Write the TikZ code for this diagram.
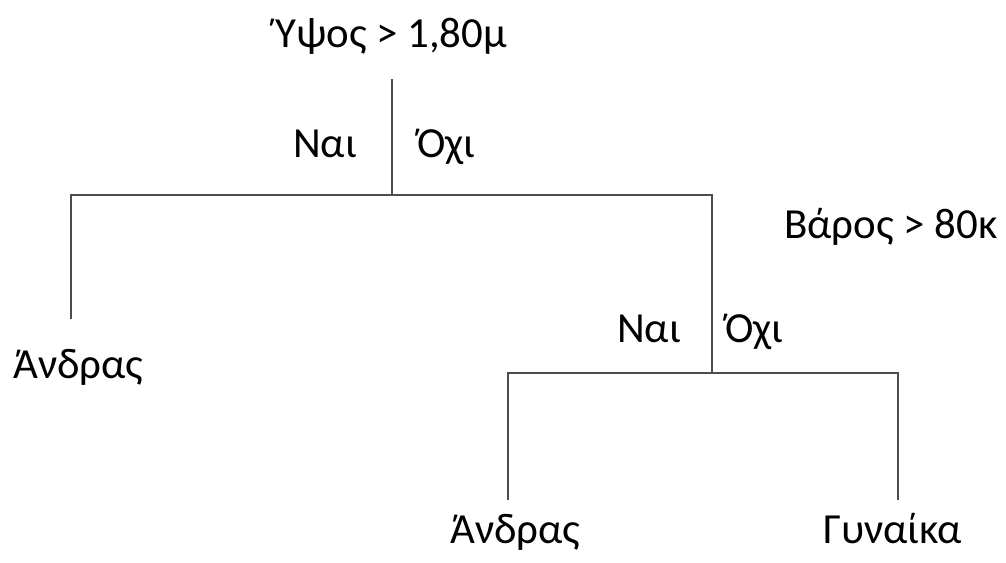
\documentclass[tikz,border=0pt]{standalone}
\usepackage{fontspec}
\setmainfont{Carlito}
\usetikzlibrary{positioning}

\begin{document}
\begin{tikzpicture}[x=0.025cm, y=-0.025cm,
    every node/.style={font=\fontsize{30.5}{36}\selectfont, inner sep=0pt, anchor=base west},
    branch/.style={draw=black!70, line width=0.9pt}]
    \useasboundingbox (0,0) rectangle (1006,563);
    % Questions
    \node (height) at (275,48) {Ύψος > 1,80μ};
    \node (weight) at (784,239) {Βάρος > 80κ};
    % Answers on the branches
    \node (yes1) at (293,158) {Ναι};
    \node (no1) at (417,158) {Όχι};
    \node (yes2) at (617,343) {Ναι};
    \node (no2) at (725,343) {Όχι};
    % Leaves
    \node (man1) at (13,379) {Άνδρας};
    \node (man2) at (450,543) {Άνδρας};
    \node (woman) at (823,543) {Γυναίκα};
    % Joints of the tree
    \coordinate (t1) at (392,79);
    \coordinate (j1) at (392,195);
    \coordinate (l1) at (71,195);
    \coordinate (r1) at (712,195);
    \coordinate (e1) at (71,319);
    \coordinate (j2) at (712,373);
    \coordinate (l2) at (508,373);
    \coordinate (r2) at (898,373);
    \coordinate (e2) at (508,500);
    \coordinate (e3) at (898,500);
    % Branches
    \draw[branch] (t1) -- (j1);
    \draw[branch] (e1) -- (l1) -- (r1) -- (j2);
    \draw[branch] (e2) -- (l2) -- (r2) -- (e3);
\end{tikzpicture}
\end{document}
